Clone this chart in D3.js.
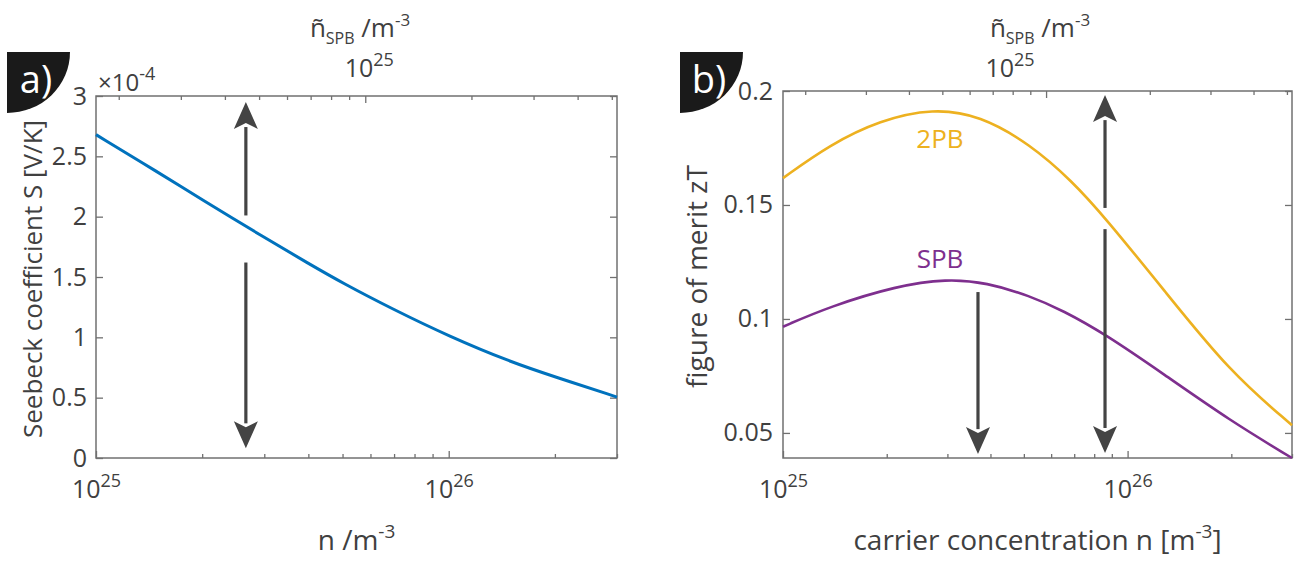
<!DOCTYPE html>
<html>
<head>
<meta charset="utf-8">
<script src="https://cdn.jsdelivr.net/npm/d3@7"></script>
<style>
  html, body { margin: 0; padding: 0; background: #fff; }
  svg { display: block; font-family: 'Open Sans', sans-serif; }
</style>
</head>
<body>
<svg id="chart" width="1306" height="563"></svg>
<script>
// ── Data ──────────────────────────────────────────────────────────────

// panel a) Seebeck coefficient, S in units of 1e-4 V/K
const nSeebeck = [1e25, 1.5e25, 2e25, 3e25, 4e25, 5e25, 7e25, 1e26, 1.5e26, 2e26, 3e26];
const seebeck  = [2.68, 2.367, 2.14, 1.827, 1.613, 1.45, 1.228, 1.01, 0.795, 0.673, 0.505];

// panel b) figure of merit zT
const n2PB  = [1e25, 1.369e25, 1.912e25, 2.725e25, 3.73e25, 5.21e25, 6.9e25, 8.6e25, 1.267e26, 1.983e26, 3e26];
const zt2PB = [0.1618, 0.1765, 0.1872, 0.1924, 0.1893, 0.1767, 0.1605, 0.1445, 0.1132, 0.0766, 0.0534];
const nSPB  = [1e25, 1.369e25, 2.138e25, 2.985e25, 3.9e25, 5.21e25, 6.49e25, 8.6e25, 1.267e26, 1.983e26, 3e26];
const ztSPB = [0.0966, 0.1055, 0.1145, 0.1176, 0.116, 0.1101, 0.1037, 0.0934, 0.076, 0.0554, 0.039];

// conversion n -> ñ_SPB on the top axes
const nTildeFactor = 5.8;

// arrows: [n, yFrom, yTo] in data units
const arrowsA = [[2.66e25, 2.01, 2.95], [2.66e25, 1.62, 0.08]];
const arrowsB = [[8.6e25, 0.1487, 0.1982], [8.6e25, 0.1394, 0.0412], [3.68e25, 0.1118, 0.0407]];

const yTicksA = [0, 0.5, 1, 1.5, 2, 2.5, 3];
const yTicksB = [0.05, 0.1, 0.15, 0.2];

// ── Constants ─────────────────────────────────────────────────────────

const TEXT = '#404040';
const AXIS = '#707070';
const ARROW = '#444444';
const BLUE = '#0072BD';
const YELLOW = '#EDB120';
const PURPLE = '#7E2F8E';
const FS = 25;      // tick labels
const FT = 28;      // axis titles

const svg = d3.select('#chart');

// ── Helpers ───────────────────────────────────────────────────────────

function logMinors(domain) {
  const out = [];
  const lo = Math.floor(Math.log10(domain[0]));
  const hi = Math.ceil(Math.log10(domain[1]));
  for (let e = lo; e <= hi; e++) {
    for (let k = 2; k <= 9; k++) {
      const v = k * Math.pow(10, e);
      if (v >= domain[0] * 0.999 && v <= domain[1] * 1.001) out.push(v);
    }
  }
  return out;
}

function powLabel(sel, v) {
  const e = Math.round(Math.log10(v));
  sel.text(null);
  sel.append('tspan').text('10');
  sel.append('tspan').attr('dy', -11).attr('font-size', FS * 0.72).text(e);
}

function styleAxis(g) {
  g.select('.domain').remove();
  g.selectAll('line').attr('stroke', AXIS).attr('stroke-width', 1.3);
  g.selectAll('text').attr('fill', TEXT).attr('font-size', FS).attr('font-family', "'Open Sans', sans-serif");
}

function drawArrow(g, x, y0, y1) {
  const dir = y1 < y0 ? -1 : 1;
  const headLen = 27, headW = 12, notch = 6;
  const back = y1 - dir * headLen;
  g.append('line')
    .attr('x1', x).attr('x2', x)
    .attr('y1', y0).attr('y2', back + dir * 2)
    .attr('stroke', ARROW).attr('stroke-width', 3.2);
  g.append('path')
    .attr('d', `M${x},${y1} L${x - headW},${back} L${x},${back + dir * notch} L${x + headW},${back} Z`)
    .attr('fill', ARROW);
}

function panelTag(x, y, label) {
  svg.append('path')
    .attr('d', `M${x},${y} H${x + 63} A63,61 0 0 1 ${x},${y + 61} Z`)
    .attr('fill', '#1a1a1a');
  svg.append('text')
    .attr('x', x + 29).attr('y', y + 41)
    .attr('text-anchor', 'middle')
    .attr('font-size', 38)
    .attr('fill', '#fff')
    .text(label);
}

function topLabel(cx) {
  const t = svg.append('text')
    .attr('x', cx).attr('y', 37)
    .attr('text-anchor', 'middle')
    .attr('font-size', 26).attr('fill', TEXT);
  t.append('tspan').text('ñ');
  t.append('tspan').attr('dy', 7).attr('font-size', 16).text('SPB');
  t.append('tspan').attr('dy', -7).text(' /m');
  t.append('tspan').attr('dy', -11).attr('font-size', 17).text('-3');
}

// ── Panel builder ─────────────────────────────────────────────────────

function panel(opts) {
  const { left, right, top, bottom } = opts;
  const x = d3.scaleLog().domain([1e25, 3e26]).range([left, right]);
  const xt = d3.scaleLog().domain([1e25 / nTildeFactor, 3e26 / nTildeFactor]).range([left, right]);
  const y = d3.scaleLinear().domain(opts.yDomain).range([bottom, top]);

  const g = svg.append('g');

  // bottom axis, majors + minors
  const bx = g.append('g').attr('transform', `translate(0,${bottom})`)
    .call(d3.axisBottom(x).tickValues([1e25, 1e26]).tickSizeInner(-7).tickSizeOuter(0).tickPadding(22));
  bx.call(styleAxis);
  bx.selectAll('text').each(function(d) { powLabel(d3.select(this), d); });
  g.append('g').attr('transform', `translate(0,${bottom})`)
    .call(d3.axisBottom(x).tickValues(logMinors(x.domain()).filter(v => v !== 1e26)).tickSizeInner(-4).tickSizeOuter(0).tickFormat(''))
    .call(styleAxis);

  // top axis (ñ_SPB)
  g.append('g').attr('transform', `translate(0,${top})`)
    .call(d3.axisTop(xt).tickValues([1e25]).tickSizeInner(-7).tickSizeOuter(0).tickFormat(''))
    .call(styleAxis);
  g.append('g').attr('transform', `translate(0,${top})`)
    .call(d3.axisTop(xt).tickValues(logMinors(xt.domain()).filter(v => v !== 1e25)).tickSizeInner(-4).tickSizeOuter(0).tickFormat(''))
    .call(styleAxis);
  const tl = svg.append('text')
    .attr('x', xt(1e25) + opts.topLabelDx).attr('y', 77)
    .attr('text-anchor', 'middle').attr('font-size', FS).attr('fill', TEXT);
  powLabel(tl, 1e25);
  topLabel(opts.topTitleX);

  // left + mirrored right y axes
  const ly = g.append('g').attr('transform', `translate(${left},0)`)
    .call(d3.axisLeft(y).tickValues(opts.yTicks).tickSizeInner(-7).tickSizeOuter(0).tickPadding(opts.yPad).tickFormat(d => String(d)));
  ly.call(styleAxis);
  g.append('g').attr('transform', `translate(${right},0)`)
    .call(d3.axisRight(y).tickValues(opts.yTicks).tickSizeInner(-7).tickSizeOuter(0).tickFormat(''))
    .call(styleAxis);

  // box
  g.append('rect')
    .attr('x', left).attr('y', top)
    .attr('width', right - left).attr('height', bottom - top)
    .attr('fill', 'none').attr('stroke', AXIS).attr('stroke-width', 1.5);

  // curves (B-spline smoothing of the read-off points)
  const line = d3.line()
    .x(d => x(d[0]))
    .y(d => y(d[1]))
    .curve(d3.curveBasis);
  opts.series.forEach(s => {
    g.append('path')
      .datum(d3.zip(s.n, s.v))
      .attr('d', line)
      .attr('fill', 'none')
      .attr('stroke', s.color)
      .attr('stroke-width', s.width);
  });

  // arrows
  opts.arrows.forEach(a => drawArrow(g, x(a[0]), y(a[1]), y(a[2])));

  // axis titles
  const xl = svg.append('text')
    .attr('x', (left + right) / 2).attr('y', 550)
    .attr('text-anchor', 'middle').attr('font-size', FT).attr('fill', TEXT);
  xl.append('tspan').text(opts.xTitle);
  xl.append('tspan').attr('dy', -12).attr('font-size', 19).text('-3');
  if (opts.xTitleEnd) xl.append('tspan').attr('dy', 12).text(opts.xTitleEnd);

  svg.append('text')
    .attr('transform', `translate(${opts.yTitleX},${(top + bottom) / 2 + 2}) rotate(-90)`)
    .attr('text-anchor', 'middle').attr('font-size', opts.yTitleSize).attr('fill', TEXT)
    .text(opts.yTitle);

  return { x, y, g };
}

// ── Panel a) ──────────────────────────────────────────────────────────

panel({
  left: 96, right: 617, top: 96, bottom: 458,
  yDomain: [0, 3], yTicks: yTicksA, yPad: 9,
  topLabelDx: 4, topTitleX: 360,
  series: [{ n: nSeebeck, v: seebeck, color: BLUE, width: 3 }],
  arrows: arrowsA,
  xTitle: 'n /m', xTitleEnd: '',
  yTitle: 'Seebeck coefficient S [V/K]', yTitleX: 42, yTitleSize: 26,
});

// exponent of the y axis
const ex = svg.append('text').attr('x', 98).attr('y', 91).attr('font-size', 24).attr('fill', TEXT);
ex.append('tspan').text('×10');
ex.append('tspan').attr('dy', -11).attr('font-size', 18).text('-4');

panelTag(7, 52, 'a)');

// ── Panel b) ──────────────────────────────────────────────────────────

const pb = panel({
  left: 783, right: 1292, top: 91, bottom: 458,
  yDomain: [0.039, 0.2], yTicks: yTicksB, yPad: 10,
  topLabelDx: -36, topTitleX: 1040,
  series: [
    { n: n2PB, v: zt2PB, color: YELLOW, width: 2.6 },
    { n: nSPB, v: ztSPB, color: PURPLE, width: 2.6 },
  ],
  arrows: arrowsB,
  xTitle: 'carrier concentration n [m', xTitleEnd: ']',
  yTitle: 'figure of merit zT', yTitleX: 707, yTitleSize: FT,
});

// series labels
svg.append('text').attr('x', pb.x(2.855e25)).attr('y', pb.y(0.175))
  .attr('text-anchor', 'middle').attr('font-size', 26).attr('fill', YELLOW).text('2PB');
svg.append('text').attr('x', pb.x(2.855e25)).attr('y', pb.y(0.1224))
  .attr('text-anchor', 'middle').attr('font-size', 26).attr('fill', PURPLE).text('SPB');

panelTag(680, 52, 'b)');
</script>
</body>
</html>
